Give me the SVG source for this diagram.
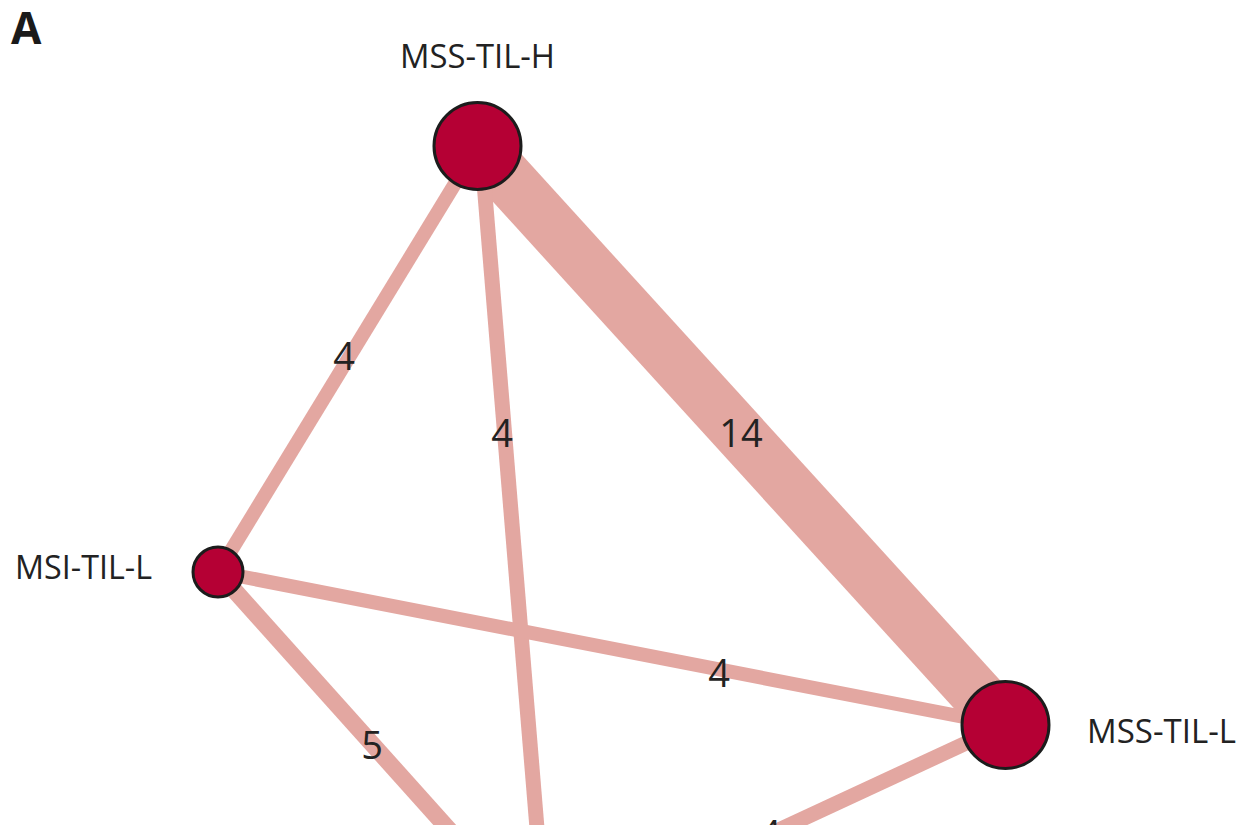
<svg xmlns="http://www.w3.org/2000/svg" width="1247" height="825" viewBox="0 0 1247 825">
<style>
.e{stroke:#e3a7a1;stroke-linecap:butt;fill:none}
.n{fill:#b50034;stroke:#1c1c1c;stroke-width:3}
.lbl{font-family:"Open Sans","Liberation Sans",sans-serif;font-size:32px;fill:#222}
.w{font-family:"Open Sans","Liberation Sans",sans-serif;font-size:38px;fill:#222;text-anchor:middle}
</style>
<rect width="1247" height="825" fill="#fff"/>
<g id="connectors">
<line class="e" x1="478" y1="146" x2="1005" y2="725" stroke-width="53"/>
<line class="e" x1="218" y1="572" x2="478" y2="146" stroke-width="14"/>
<line class="e" x1="481" y1="146" x2="546" y2="938" stroke-width="15"/>
<line class="e" x1="218" y1="572" x2="1005" y2="725" stroke-width="14"/>
<line class="e" x1="218" y1="572" x2="546" y2="938" stroke-width="17"/>
<line class="e" x1="1005" y1="725" x2="546" y2="938" stroke-width="15"/>
<text class="w" x="344" y="370">4</text>
<text class="w" x="502" y="447">4</text>
<text class="w" x="741" y="447">14</text>
<text class="w" x="719" y="687">4</text>
<text class="w" x="372" y="759">5</text>
<text class="w" x="770" y="848">4</text>
</g>
<g id="MSS-TIL-H">
<circle class="n" cx="477.5" cy="146" r="43.5"/>
<text class="lbl" x="400" y="68" textLength="155" lengthAdjust="spacingAndGlyphs">MSS-TIL-H</text>
</g>
<g id="MSI-TIL-L">
<circle class="n" cx="218" cy="572" r="25"/>
<text class="lbl" x="15" y="579" textLength="137" lengthAdjust="spacingAndGlyphs">MSI-TIL-L</text>
</g>
<g id="MSS-TIL-L">
<circle class="n" cx="1005.5" cy="725" r="43.5"/>
<text class="lbl" x="1087" y="743" textLength="149" lengthAdjust="spacingAndGlyphs">MSS-TIL-L</text>
</g>
<text x="11" y="44" font-family="'Open Sans','Liberation Sans',sans-serif" font-weight="bold" font-size="44" fill="#1a1a1a">A</text>
</svg>
